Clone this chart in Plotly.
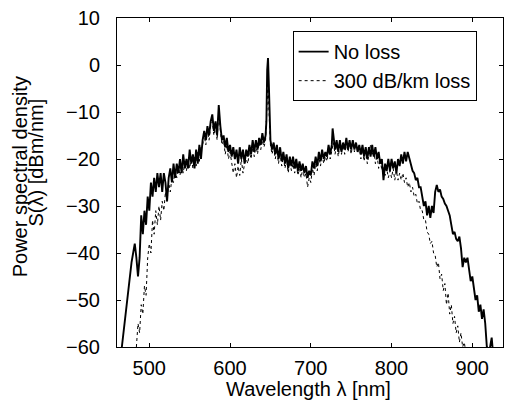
import plotly.graph_objects as go

# ---------------- data ----------------
wl_noloss = [466, 468, 470, 472, 474, 476, 478, 480, 482, 484, 486, 488, 490, 492, 494, 496,
             498, 500, 502, 504, 506, 508, 510, 512, 514, 516, 518, 520, 522, 524, 526, 528,
             530, 532, 534, 536, 538, 540, 542, 544, 546, 548, 550, 552, 554, 556, 558, 560,
             562, 564, 566, 568, 570, 572, 574, 576, 578, 580, 582, 584, 586, 588, 590, 592,
             594, 596, 598, 600, 602, 604, 606, 608, 610, 612, 614, 616, 618, 620, 622, 624,
             626, 628, 630, 632, 634, 636, 638, 640, 642, 644, 645, 646, 647, 648, 649, 650,
             652, 654, 656, 658, 660, 662, 664, 666, 668, 670, 672, 674, 676, 678, 680, 682,
             684, 686, 688, 690, 692, 694, 696, 698, 700, 702, 704, 706, 708, 710, 712, 714,
             716, 718, 720, 722, 724, 726, 727, 728, 730, 732, 734, 736, 738, 740, 742, 744,
             746, 748, 750, 752, 754, 756, 758, 760, 762, 764, 766, 768, 770, 772, 774, 776,
             778, 780, 782, 784, 786, 788, 790, 792, 794, 796, 798, 800, 802, 804, 806, 808,
             810, 812, 814, 816, 818, 820, 822, 824, 826, 828, 830, 832, 834, 836, 838, 840,
             842, 844, 846, 848, 850, 852, 854, 856, 858, 860, 862, 864, 866, 868, 870, 872,
             874, 876, 878, 880, 882, 884, 886, 888, 890, 892, 894, 896, 898, 900, 902, 904,
             906, 908, 910, 912, 914, 916, 918, 920, 924, 926]
psd_noloss = [-60, -57, -53, -51, -47, -44, -42, -40, -38, -41, -45, -41, -32, -36, -31, -34,
              -28, -31, -25, -28, -24, -27, -23, -26, -23, -27, -23, -25, -29, -24, -22, -25,
              -21, -24, -21, -23, -20, -23, -19, -22, -20, -22, -18, -21, -19, -22, -18, -21,
              -17, -20, -16, -14, -16, -13, -15, -12, -10.5, -14, -12, -15, -8.5, -13, -16, -15,
              -17.5, -15.5, -18.5, -17, -19.5, -17.5, -20, -18, -21, -17.5, -20, -18, -21, -18, -19.5, -17,
              -19, -16, -18.5, -16, -18, -15.5, -17, -14.5, -16.5, -15, -12, -1, 1.5, -4, -14, -16,
              -18, -16.5, -19, -17, -20, -17.5, -20.5, -18.5, -21, -19, -22, -19.5, -21.5, -19.5, -22, -20,
              -22.5, -20.5, -22.5, -21, -23, -21.5, -24, -22.5, -23.5, -20.5, -22, -19.5, -21.5, -18.5, -20.5, -18,
              -20, -18.5, -19.5, -17, -19, -17, -13.5, -15, -18, -16, -18.5, -16, -18.5, -16.5, -18, -15.5,
              -18, -16, -18, -16, -18, -16.5, -18.5, -17, -19, -17, -19.5, -17.5, -20, -17.5, -19.5, -17,
              -19.5, -17.5, -20, -18.5, -21, -20, -24.5, -21, -22.5, -20, -22.5, -20, -22, -20.5, -23, -20,
              -21.5, -19, -21, -18.5, -20.5, -18.5, -20, -21.5, -22.5, -23, -24.5, -24, -26, -26, -28, -30,
              -29, -32, -30, -32.5, -30, -31.5, -27, -25.5, -27, -26.5, -28, -28.5, -29.5, -30, -31, -32,
              -34, -36, -35.5, -37, -37.5, -36.5, -39, -43, -41, -42, -41, -44, -46, -45, -48, -50,
              -49, -52.5, -51, -54, -52, -55, -60, -62, -58, -62]

wl_loss = [484, 486, 488, 490, 492, 494, 496, 498, 500, 502, 504, 506, 508, 510, 512, 514,
           516, 518, 520, 522, 524, 526, 528, 530, 532, 534, 536, 538, 540, 542, 544, 546,
           548, 550, 552, 554, 556, 558, 560, 562, 564, 566, 568, 570, 572, 574, 576, 578,
           580, 582, 584, 586, 588, 590, 592, 594, 596, 598, 600, 602, 604, 606, 608, 610,
           612, 614, 616, 618, 620, 622, 624, 626, 628, 630, 632, 634, 636, 638, 640, 642,
           644, 646, 647, 648, 650, 652, 654, 656, 658, 660, 662, 664, 666, 668, 670, 672,
           674, 676, 678, 680, 682, 684, 686, 688, 690, 692, 694, 696, 698, 700, 702, 704,
           706, 708, 710, 712, 714, 716, 718, 720, 722, 724, 726, 728, 730, 732, 734, 736,
           738, 740, 742, 744, 746, 748, 750, 752, 754, 756, 758, 760, 762, 764, 766, 768,
           770, 772, 774, 776, 778, 780, 782, 784, 786, 788, 790, 792, 794, 796, 798, 800,
           802, 804, 806, 808, 810, 812, 814, 816, 818, 820, 822, 824, 826, 828, 830, 832,
           834, 836, 838, 840, 842, 844, 846, 848, 850, 852, 854, 856, 858, 860, 862, 864,
           866, 868, 870, 872, 874, 876, 878, 880, 882, 884, 886, 888, 890, 892]
psd_loss = [-60, -55, -57, -51, -53, -47, -49, -41, -38, -40, -33, -36, -31, -34, -30, -33,
            -29, -31, -27, -29, -25, -27, -24, -25, -22, -24, -21.5, -23.5, -21, -23, -20.5, -22.5,
            -20, -22, -19.5, -22, -19.5, -21.5, -18.5, -20.5, -17.5, -17, -15, -17, -14, -16, -13, -12,
            -15, -13, -16, -10, -14, -17, -16, -19, -17, -20, -18.5, -21, -23, -21, -24, -21.5,
            -23.5, -20, -23, -21, -20, -21, -18.5, -20, -17.5, -19.5, -17, -19, -16.5, -18, -16, -17.5,
            -16, -8, -3, -9, -17, -19, -17.5, -20, -18, -21, -18.5, -21.5, -19.5, -22, -20, -23,
            -20.5, -22.5, -21, -23, -21, -23.5, -22, -24, -22, -24, -23, -26, -24, -25, -22, -23.5,
            -21, -22.5, -19.5, -21.5, -19, -21, -19.5, -20.5, -18, -20, -18, -16.5, -19, -17, -19.5, -17,
            -19, -17, -19, -16.5, -18.5, -17, -19, -16.5, -18.5, -16.5, -18.5, -17.5, -20, -18, -20.5, -18.5,
            -21, -18.5, -17, -19, -18, -21, -19, -22, -20, -22.5, -21.5, -23.5, -22, -24, -22.5, -24,
            -22, -24.5, -22.5, -24.5, -23, -24.5, -23, -25, -24, -26, -25, -27, -26, -28, -27.5, -29.5,
            -29, -31, -31, -33, -33, -35.5, -36, -38, -37.5, -40, -40.5, -43, -42, -45.5, -44.5, -48,
            -46.5, -51, -48.5, -53, -51, -55, -53.5, -57, -55.5, -59, -57, -60, -59, -61]

series_names = ["No loss", "300 dB/km loss"]
x_ticks = [500, 600, 700, 800, 900]
y_ticks = [10, 0, -10, -20, -30, -40, -50, -60]

FONT = "Liberation Sans, Arial, Helvetica, sans-serif"

fig = go.Figure()
fig.add_trace(go.Scatter(x=wl_noloss, y=psd_noloss, mode="lines", name=series_names[0],
                         line=dict(color="black", width=1.9)))
fig.add_trace(go.Scatter(x=wl_loss, y=psd_loss, mode="lines", name=series_names[1],
                         line=dict(color="black", width=1, dash="dot")))

axis_common = dict(showline=True, linecolor="black", linewidth=1, mirror="allticks",
                   ticks="inside", ticklen=4, tickcolor="black", showgrid=False,
                   zeroline=False, tickfont=dict(family=FONT, size=20, color="black"))

fig.update_xaxes(range=[460, 938], tickvals=x_ticks, ticklabelstandoff=3, **axis_common)
fig.update_yaxes(range=[-60, 10], tickvals=y_ticks, ticklabelstandoff=12, **axis_common)

fig.update_layout(
    width=505, height=401,
    margin=dict(l=117, r=2, t=18, b=54),
    plot_bgcolor="white", paper_bgcolor="white",
    font=dict(family=FONT, size=20, color="black"),
    showlegend=True,
    legend=dict(x=0.455, y=0.96, xanchor="left", yanchor="top",
                bgcolor="white", bordercolor="black", borderwidth=1,
                font=dict(family=FONT, size=20, color="black"),
                itemwidth=30, tracegroupgap=0),
    annotations=[
        dict(text="Wavelength λ [nm]", xref="paper", yref="paper", x=0.497, y=-0.128,
             xanchor="center", yanchor="middle", showarrow=False,
             font=dict(family=FONT, size=20, color="black")),
        dict(text="Power spectral density", xref="paper", yref="paper", x=-0.252, y=0.518,
             xanchor="center", yanchor="middle", textangle=-90, showarrow=False,
             font=dict(family=FONT, size=20, color="black")),
        dict(text="S(λ) [dBm/nm]", xref="paper", yref="paper", x=-0.2095, y=0.561,
             xanchor="center", yanchor="middle", textangle=-90, showarrow=False,
             font=dict(family=FONT, size=20, color="black")),
    ],
)

fig.write_html("out.html", config={"displayModeBar": False},
               post_script="document.body.style.margin='0';document.body.style.overflow='hidden';")
